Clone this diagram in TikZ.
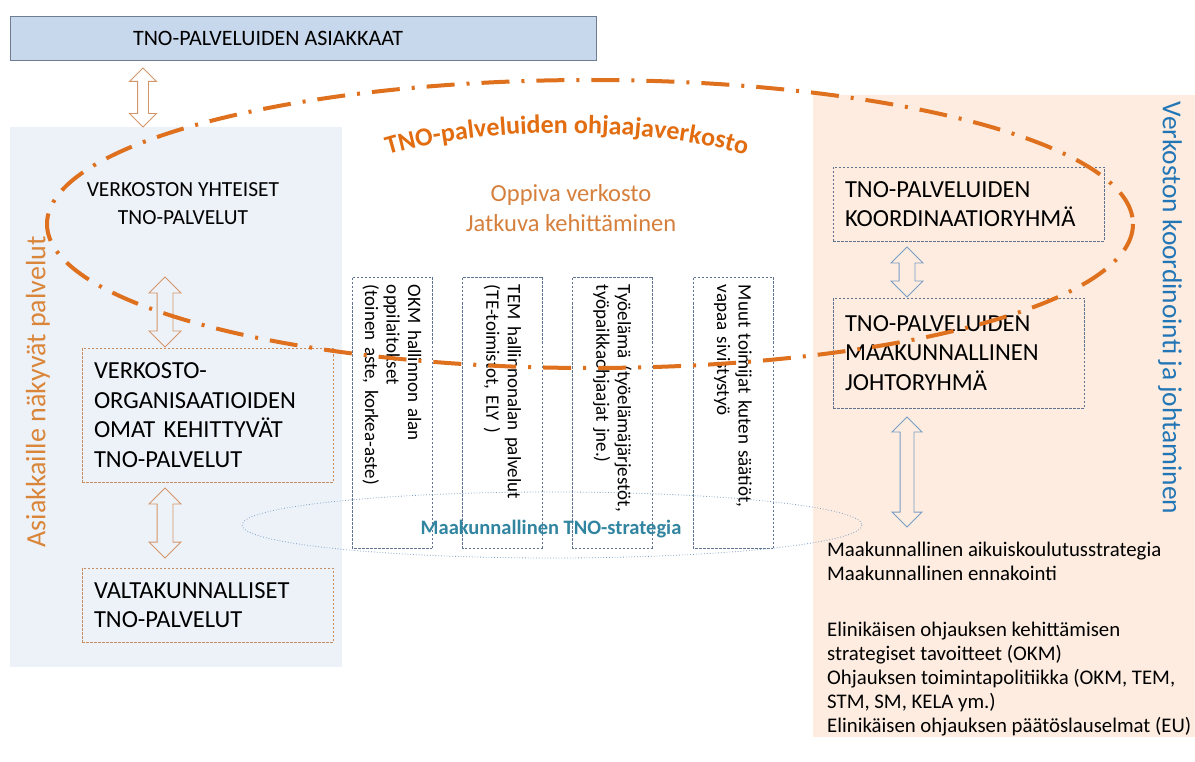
\documentclass[tikz,border=0pt]{standalone}
\usepackage{fontspec}
\setmainfont{Carlito}
\usetikzlibrary{shapes.arrows,decorations.text}
\definecolor{ellorange}{RGB}{222,112,30}
\definecolor{titleorange}{RGB}{226,108,16}
\definecolor{softorange}{RGB}{214,128,62}
\definecolor{sideorange}{RGB}{218,134,58}
\definecolor{boxorange}{RGB}{200,140,95}
\definecolor{arrorange}{RGB}{212,150,105}
\definecolor{arrblue}{RGB}{120,158,198}
\definecolor{boxblue}{RGB}{95,115,145}
\definecolor{sideblue}{RGB}{35,118,182}
\definecolor{tealblue}{RGB}{49,133,160}
\definecolor{ellblue}{RGB}{125,160,195}
\definecolor{leftpanel}{RGB}{237,242,249}
\definecolor{rightpanel}{RGB}{253,236,223}
\definecolor{titlefill}{RGB}{200,216,236}
\definecolor{titleborder}{RGB}{110,125,145}
\tikzset{
  dblarr/.style={double arrow, rotate=90, inner xsep=0pt, line width=0.9pt, double arrow head extend=8pt},
  obox/.style={draw=boxorange, dash pattern=on 2.5pt off 1.5pt, line width=0.8pt, align=left, inner xsep=12pt, font=\fontsize{24.5}{29.5}\selectfont},
  bbox/.style={draw=boxblue, dash pattern=on 2.5pt off 1.5pt, line width=0.8pt, align=left, inner xsep=12pt, font=\fontsize{24.5}{29.5}\selectfont},
  vbox/.style={draw=boxblue, dash pattern=on 2.5pt off 1.5pt, line width=0.8pt, rotate=-90, minimum width=271pt, minimum height=80pt, inner xsep=8pt, text width=255pt, align=left, font=\fontsize{19}{21.5}\selectfont},
  rtext/.style={anchor=north west, inner sep=0pt, align=left, font=\fontsize{20.8}{24}\selectfont}
}
\begin{document}
\begin{tikzpicture}[x=1pt,y=-1pt]
\useasboundingbox (0,0) rectangle (1195,762);
\fill[white] (0,0) rectangle (1195,762);
% panels
\fill[leftpanel] (10,127) rectangle (342,667);
\fill[rightpanel] (813,95) rectangle (1195,737);
% title
\node[draw=titleborder, fill=titlefill, line width=0.8pt, minimum width=586pt, minimum height=44pt, anchor=north west, inner sep=0pt] (top) at (10,16) {};
\node[font=\fontsize{22}{26}\selectfont] (toptext) at (268,38) {TNO-PALVELUIDEN ASIAKKAAT};
% side labels
\node[rotate=90, text=sideorange, font=\fontsize{28}{32}\selectfont] (asiak) at (38,392) {Asiakkaille näkyvät palvelut};
\node[rotate=-90, text=sideblue, font=\fontsize{27.4}{32}\selectfont] (verk) at (1170,308) {Verkoston koordinointi ja johtaminen};
% left column
\node[align=center, font=\fontsize{21.5}{28}\selectfont] (yht) at (183,204) {VERKOSTON YHTEISET\\TNO-PALVELUT};
\node[obox, minimum width=251pt, minimum height=134pt, text width=227pt] (omat) at (207.5,415) {VERKOSTO-\\ORGANISAATIOIDEN\\OMAT KEHITTYVÄT\\TNO-PALVELUT};
\node[obox, minimum width=251pt, minimum height=74pt, text width=227pt] (valt) at (207.5,605) {VALTAKUNNALLISET\\TNO-PALVELUT};
% right column
\node[bbox, minimum width=271pt, minimum height=74pt, text width=247pt] (koord) at (968.5,204) {TNO-PALVELUIDEN\\KOORDINAATIORYHMÄ};
\node[bbox, minimum width=251pt, minimum height=110pt, text width=227pt] (johto) at (958.5,353) {TNO-PALVELUIDEN\\MAAKUNNALLINEN\\JOHTORYHMÄ};
\node[rtext] (strat) at (827,542) {Maakunnallinen aikuiskoulutusstrategia\\Maakunnallinen ennakointi};
\node[rtext] (elin) at (827,622) {Elinikäisen ohjauksen kehittämisen\\strategiset tavoitteet (OKM)\\Ohjauksen toimintapolitiikka (OKM, TEM,\\STM, SM, KELA ym.)\\Elinikäisen ohjauksen päätöslauselmat (EU)};
% centre texts
\node[align=center, text=softorange, font=\fontsize{24.5}{30}\selectfont] (oppiva) at (571,208) {Oppiva verkosto\\Jatkuva kehittäminen};
% vertical boxes
\node[vbox] (v1) at (392,412.5) {OKM hallinnon alan\\oppilaitokset\\(toinen aste, korkea-aste)};
\node[vbox] (v2) at (502.5,412.5) {TEM hallinnonalan palvelut\\(TE-toimistot, ELY )};
\node[vbox] (v3) at (612.5,412.5) {Työelämä (työelämäjärjestöt,\\työpaikkaohjaajat jne.)};
\node[vbox] (v4) at (733,412.5) {Muut toimijat kuten säätiöt,\\vapaa sivistystyö};
% strategy ellipse
\draw[ellblue, line width=0.8pt, dotted] (552,525) ellipse [x radius=310, y radius=33];
\node[text=tealblue, font=\fontsize{20.5}{24}\bfseries\selectfont] (mtno) at (551,529) {Maakunnallinen TNO-strategia};
% arrows
\node[dblarr, draw=arrorange, fill=white, minimum height=59pt, minimum width=24pt, inner ysep=5pt] (a1) at (143,97.5) {};
\node[dblarr, draw=arrorange, fill=leftpanel, minimum height=70pt, minimum width=30pt, inner ysep=7.5pt] (a2) at (165,312) {};
\node[dblarr, draw=arrorange, fill=leftpanel, minimum height=70pt, minimum width=30pt, inner ysep=7.5pt] (a3) at (165,523) {};
\node[dblarr, draw=arrblue, fill=rightpanel, minimum height=50pt, minimum width=31pt, inner ysep=7.5pt] (a4) at (907,272) {};
\node[dblarr, draw=arrblue, fill=rightpanel, minimum height=110pt, minimum width=29pt, inner ysep=6.5pt] (a5) at (907,472) {};
% network ellipse
\draw[ellorange, line width=4pt, dash pattern=on 28pt off 12pt on 3pt off 12pt] (590,224) ellipse [x radius=543, y radius=144];
% arched title
\path[decorate, decoration={text along path, text align=center,
  text={|\fontsize{26}{30}\bfseries\selectfont\color{titleorange}|TNO-palveluiden  ohjaajaverkosto}}]
  (372,160) .. controls (470,124) and (660,124) .. (762,160);
\end{tikzpicture}
\end{document}
